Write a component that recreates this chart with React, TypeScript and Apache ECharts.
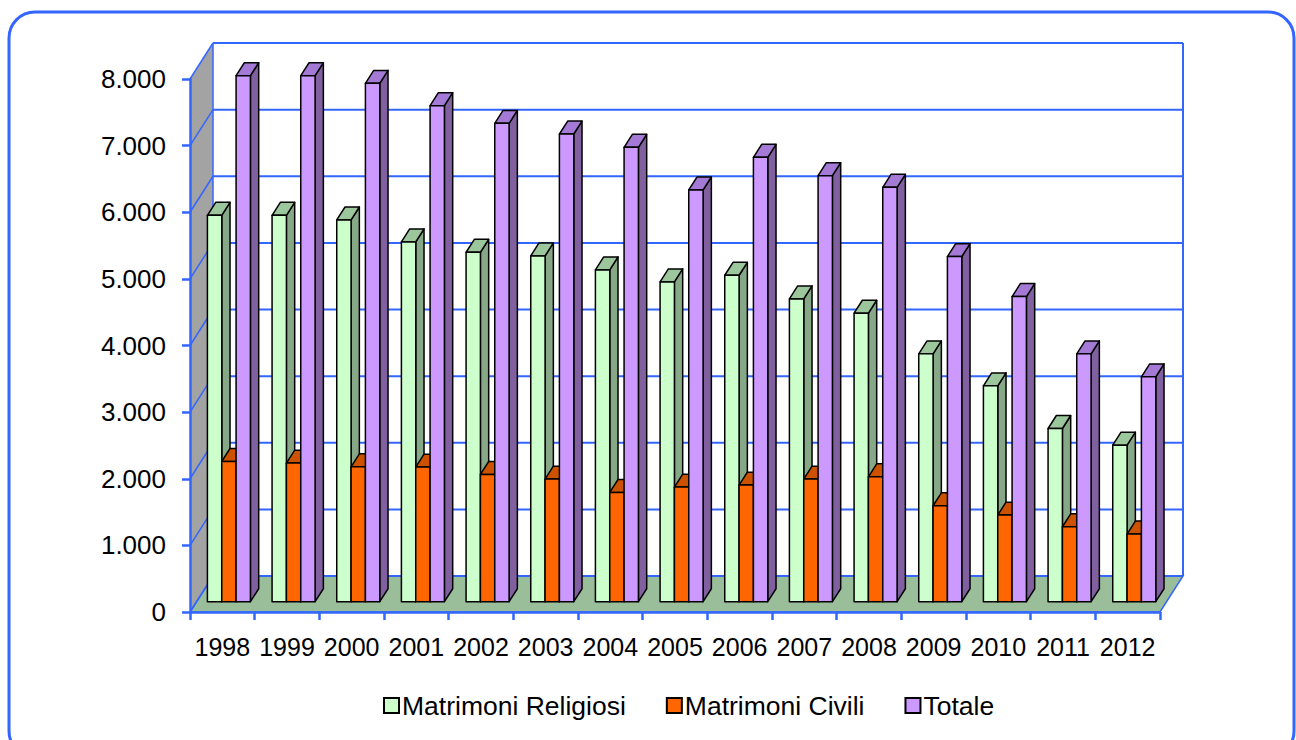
import React, { useEffect, useRef } from "react";
import * as echarts from "echarts";

// Annual marriages by type
const years = ["1998", "1999", "2000", "2001", "2002", "2003", "2004", "2005", "2006", "2007", "2008", "2009", "2010", "2011", "2012"];
const religiosi = [5800, 5800, 5730, 5400, 5245, 5190, 4980, 4800, 4900, 4545, 4330, 3720, 3240, 2600, 2350];
const civili = [2105, 2080, 2025, 2020, 1910, 1840, 1640, 1720, 1750, 1840, 1875, 1440, 1300, 1125, 1015];
const totale = [7895, 7895, 7780, 7445, 7180, 7020, 6820, 6180, 6670, 6395, 6220, 5180, 4580, 3720, 3375];
const yTicks = [0, 1000, 2000, 3000, 4000, 5000, 6000, 7000, 8000];
const seriesNames = ["Matrimoni Religiosi", "Matrimoni Civili", "Totale"];

const Y_MAX = 8000;
const BLUE = "#3366ff";
const FONT = "'Liberation Sans', Arial, sans-serif";

// Oblique projection of the depth axis (pixels from front plane to back wall)
const DX = 23;
const DY = 36;
// Bars sit inside the depth: front face at BAR_FRONT, depth BAR_DEPTH (fractions)
const BAR_FRONT = 0.286;
const BAR_DEPTH = 0.36;
// Share of a category occupied by the three bars together
const GROUP_FRAC = 0.665;

const fmt = (v: number) => String(v).replace(/\B(?=(\d{3})+(?!\d))/g, ".");

const frameSeries = {
  type: "custom",
  name: "frame",
  coordinateSystem: "cartesian2d",
  silent: true,
  z: 1,
  data: [[0, 0]],
  encode: { x: 0, y: 1 },
  renderItem: (params: any, api: any) => {
    const p0 = api.coord([0, 0]);
    const catW = api.size([1, 0])[0];
    const left = p0[0] - catW / 2;
    const right = left + catW * years.length;
    const yTop = api.coord([0, Y_MAX])[1];
    const yBot = p0[1];
    const children: any[] = [];
    children.push({
      type: "polygon",
      shape: { points: [[left + DX, yTop - DY], [right + DX, yTop - DY], [right + DX, yBot - DY], [left + DX, yBot - DY]] },
      style: { fill: "#ffffff" },
    });
    children.push({
      type: "polygon",
      shape: { points: [[left, yTop], [left + DX, yTop - DY], [left + DX, yBot - DY], [left, yBot]] },
      style: { fill: "#a3a3a3" },
    });
    children.push({
      type: "polygon",
      shape: { points: [[left, yBot], [right, yBot], [right + DX, yBot - DY], [left + DX, yBot - DY]] },
      style: { fill: "#9abd9a", stroke: BLUE, lineWidth: 1.5 },
    });
    yTicks.forEach((v) => {
      const y = api.coord([0, v])[1];
      children.push({
        type: "line",
        shape: { x1: left + DX, y1: y - DY, x2: right + DX, y2: y - DY },
        style: { stroke: BLUE, lineWidth: 2 },
      });
      children.push({
        type: "line",
        shape: { x1: left, y1: y, x2: left + DX, y2: y - DY },
        style: { stroke: BLUE, lineWidth: 1.5 },
      });
    });
    children.push({
      type: "line",
      shape: { x1: left + DX, y1: yTop - DY, x2: left + DX, y2: yBot - DY },
      style: { stroke: BLUE, lineWidth: 1.5 },
    });
    children.push({
      type: "line",
      shape: { x1: right + DX, y1: yTop - DY, x2: right + DX, y2: yBot - DY },
      style: { stroke: BLUE, lineWidth: 2 },
    });
    return { type: "group", children };
  },
};

const makeBars = (name: string, values: number[], slot: number, face: string, side: string, top: string) => ({
  type: "custom",
  name,
  coordinateSystem: "cartesian2d",
  z: 3,
  data: values.map((v, i) => [i, v]),
  encode: { x: 0, y: 1 },
  itemStyle: { color: face, borderColor: "#000", borderWidth: 1.5 },
  renderItem: (params: any, api: any) => {
    const i = api.value(0);
    const v = api.value(1);
    const base = api.coord([i, 0]);
    const tip = api.coord([i, v]);
    const catW = api.size([1, 0])[0];
    const barW = (catW * GROUP_FRAC) / 3;
    const fx = DX * BAR_FRONT;
    const fy = DY * BAR_FRONT;
    const bx = DX * BAR_DEPTH;
    const by = DY * BAR_DEPTH;
    const x0 = base[0] - (catW * GROUP_FRAC) / 2 + slot * barW + fx;
    const x1 = x0 + barW;
    const yb = base[1] - fy;
    const yt = tip[1] - fy;
    const edge = { stroke: "#000", lineWidth: 1.5, lineJoin: "round" };
    return {
      type: "group",
      children: [
        {
          type: "polygon",
          shape: { points: [[x1, yt], [x1 + bx, yt - by], [x1 + bx, yb - by], [x1, yb]] },
          style: { fill: side, ...edge },
        },
        {
          type: "polygon",
          shape: { points: [[x0, yt], [x1, yt], [x1 + bx, yt - by], [x0 + bx, yt - by]] },
          style: { fill: top, ...edge },
        },
        {
          type: "rect",
          shape: { x: x0, y: yt, width: barW, height: yb - yt },
          style: { fill: face, ...edge },
        },
      ],
    };
  },
});

export default function App() {
  const ref = useRef<HTMLDivElement>(null);

  useEffect(() => {
    document.body.style.margin = "0";
    const chart = echarts.init(ref.current!, null, { renderer: "svg" });
    chart.setOption({
      animation: false,
      backgroundColor: "#ffffff",
      textStyle: { fontFamily: FONT },
      grid: { left: 190, right: 136, top: 79, bottom: 128, containLabel: false },
      xAxis: {
        type: "category",
        data: years,
        z: 5,
        axisLine: { lineStyle: { color: BLUE, width: 2.5 } },
        axisTick: { show: true, length: 8, lineStyle: { color: BLUE, width: 2.5 } },
        axisLabel: { color: "#000", fontSize: 25, margin: 22, fontFamily: FONT, interval: 0 },
        splitLine: { show: false },
      },
      yAxis: {
        type: "value",
        min: 0,
        max: Y_MAX,
        interval: 1000,
        z: 5,
        axisLine: { show: true, lineStyle: { color: BLUE, width: 2.5 } },
        axisTick: { show: true, length: 8, lineStyle: { color: BLUE, width: 2.5 } },
        axisLabel: { color: "#000", fontSize: 26, margin: 24, fontFamily: FONT, formatter: (v: number) => fmt(v) },
        splitLine: { show: false },
      },
      legend: {
        data: seriesNames,
        left: 378,
        top: 687,
        icon: "rect",
        itemWidth: 15,
        itemHeight: 15,
        itemGap: 40,
        itemStyle: { borderColor: "#000", borderWidth: 2 },
        textStyle: { color: "#000", fontSize: 26.5, fontFamily: FONT, padding: [0, 0, 0, -2] },
      },
      graphic: [
        {
          type: "rect",
          shape: { x: 9, y: 12, width: 1285, height: 745, r: 26 },
          style: { fill: "none", stroke: BLUE, lineWidth: 3 },
          z: 100,
          silent: true,
        },
      ],
      series: [
        frameSeries,
        makeBars(seriesNames[0], religiosi, 0, "#ccffcc", "#86a886", "#9cc69c"),
        makeBars(seriesNames[1], civili, 1, "#ff6600", "#b34700", "#cc5200"),
        makeBars(seriesNames[2], totale, 2, "#cc99ff", "#80609f", "#a57ad6"),
      ],
    });
    return () => chart.dispose();
  }, []);

  return <div ref={ref} style={{ width: 1296, height: 740 }} />;
}
